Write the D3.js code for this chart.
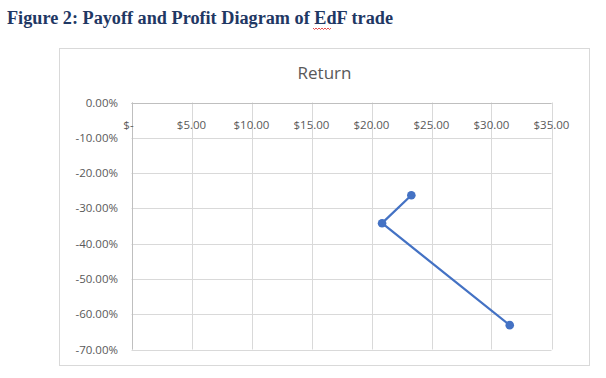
<!DOCTYPE html>
<html>
<head>
<meta charset="utf-8">
<script src="https://cdn.jsdelivr.net/npm/d3@7"></script>
<style>
    body { margin: 0; background: #fff; }
    .tick-text { font-family: "Open Sans", sans-serif; font-size: 11.5px; fill: #595959; }
</style>
</head>
<body>
<div id="chart"></div>
<script>
// data
var prices = [23.32, 20.88, 31.52];
var returns = [-0.263, -0.342, -0.631];
var xTicks = [0, 5, 10, 15, 20, 25, 30, 35];
var yTicks = [0, -0.1, -0.2, -0.3, -0.4, -0.5, -0.6, -0.7];
var caption = "Figure 2: Payoff and Profit Diagram of EdF trade";
var chartTitle = "Return";

var W = 606, H = 378;

var svg = d3.select("#chart").append("svg")
    .attr("width", W)
    .attr("height", H);

svg.append("rect").attr("width", W).attr("height", H).attr("fill", "#fff");

// caption above the chart (document heading)
svg.append("text")
    .attr("x", 7)
    .attr("y", 24)
    .attr("font-family", "'Liberation Serif', 'Times New Roman', serif")
    .attr("font-weight", "bold")
    .attr("font-size", 18)
    .attr("fill", "#1F3864")
    .attr("textLength", 386)
    .attr("lengthAdjust", "spacingAndGlyphs")
    .text(caption);

// spell-check squiggle under "EdF"
var wave = "M313,28";
for (var i = 0; i < 12; i++) {
    wave += " l1.5," + (i % 2 == 0 ? 1.5 : -1.5);
}
svg.append("path")
    .attr("d", wave)
    .attr("fill", "none")
    .attr("stroke", "#e02020")
    .attr("stroke-width", 0.8);

// chart box
svg.append("rect")
    .attr("x", 59.5).attr("y", 48.5)
    .attr("width", 530).attr("height", 317)
    .attr("fill", "#fff")
    .attr("stroke", "#d9d9d9");

svg.append("text")
    .attr("x", 324.5)
    .attr("y", 79)
    .attr("text-anchor", "middle")
    .attr("font-family", "'Open Sans', sans-serif")
    .attr("font-size", 17)
    .attr("fill", "#595959")
    .text(chartTitle);

var x = d3.scaleLinear().domain([0, 35]).range([131.5, 551.5]);
var y = d3.scaleLinear().domain([-0.7, 0]).range([349.5, 102.5]);

var g = svg.append("g");

// gridlines
g.selectAll(".vgrid")
    .data(xTicks)
    .enter().append("line")
    .attr("class", "vgrid")
    .attr("x1", function(d) { return Math.round(x(d)) + 0.5; })
    .attr("x2", function(d) { return Math.round(x(d)) + 0.5; })
    .attr("y1", y(0))
    .attr("y2", y(-0.7))
    .attr("stroke", "#d9d9d9");

g.selectAll(".hgrid")
    .data(yTicks)
    .enter().append("line")
    .attr("class", "hgrid")
    .attr("x1", x(0))
    .attr("x2", x(35))
    .attr("y1", function(d) { return Math.round(y(d)) + 0.5; })
    .attr("y2", function(d) { return Math.round(y(d)) + 0.5; })
    .attr("stroke", "#d9d9d9");

// axis lines (x axis crosses at 0%, on top)
g.append("line")
    .attr("x1", x(0)).attr("x2", x(35))
    .attr("y1", Math.round(y(0)) + 0.5).attr("y2", Math.round(y(0)) + 0.5)
    .attr("stroke", "#bfbfbf");
g.append("line")
    .attr("x1", Math.round(x(0)) + 0.5).attr("x2", Math.round(x(0)) + 0.5)
    .attr("y1", y(0)).attr("y2", y(-0.7))
    .attr("stroke", "#bfbfbf");

// tick labels, plain hyphen as minus like Excel
var loc = d3.formatLocale({decimal: ".", thousands: ",", grouping: [3], currency: ["$", ""], minus: "-"});
var pct = loc.format(".2%");
g.selectAll(".ylab")
    .data(yTicks)
    .enter().append("text")
    .attr("class", "tick-text")
    .attr("x", 118)
    .attr("y", function(d) { return y(d); })
    .attr("dy", "0.35em")
    .attr("text-anchor", "end")
    .text(function(d) { return pct(d == 0 ? 0 : d); });

g.selectAll(".xlab")
    .data(xTicks)
    .enter().append("text")
    .attr("class", "tick-text")
    .attr("x", function(d) { return d == 0 ? x(d) - 3 : x(d); })
    .attr("y", 125)
    .attr("dy", "0.35em")
    .attr("text-anchor", "middle")
    .text(function(d) { return d == 0 ? "$-" : "$" + d.toFixed(2); });

// the series
var pts = prices.map(function(p, i) { return [p, returns[i]]; });

var line = d3.line()
    .x(function(d) { return x(d[0]); })
    .y(function(d) { return y(d[1]); });

g.append("path")
    .datum(pts)
    .attr("d", line)
    .attr("fill", "none")
    .attr("stroke", "#4472C4")
    .attr("stroke-width", 2.25)
    .attr("stroke-linejoin", "round");

g.selectAll(".dot")
    .data(pts)
    .enter().append("circle")
    .attr("class", "dot")
    .attr("cx", function(d) { return x(d[0]); })
    .attr("cy", function(d) { return y(d[1]); })
    .attr("r", 4.3)
    .attr("fill", "#4472C4");
</script>
</body>
</html>
